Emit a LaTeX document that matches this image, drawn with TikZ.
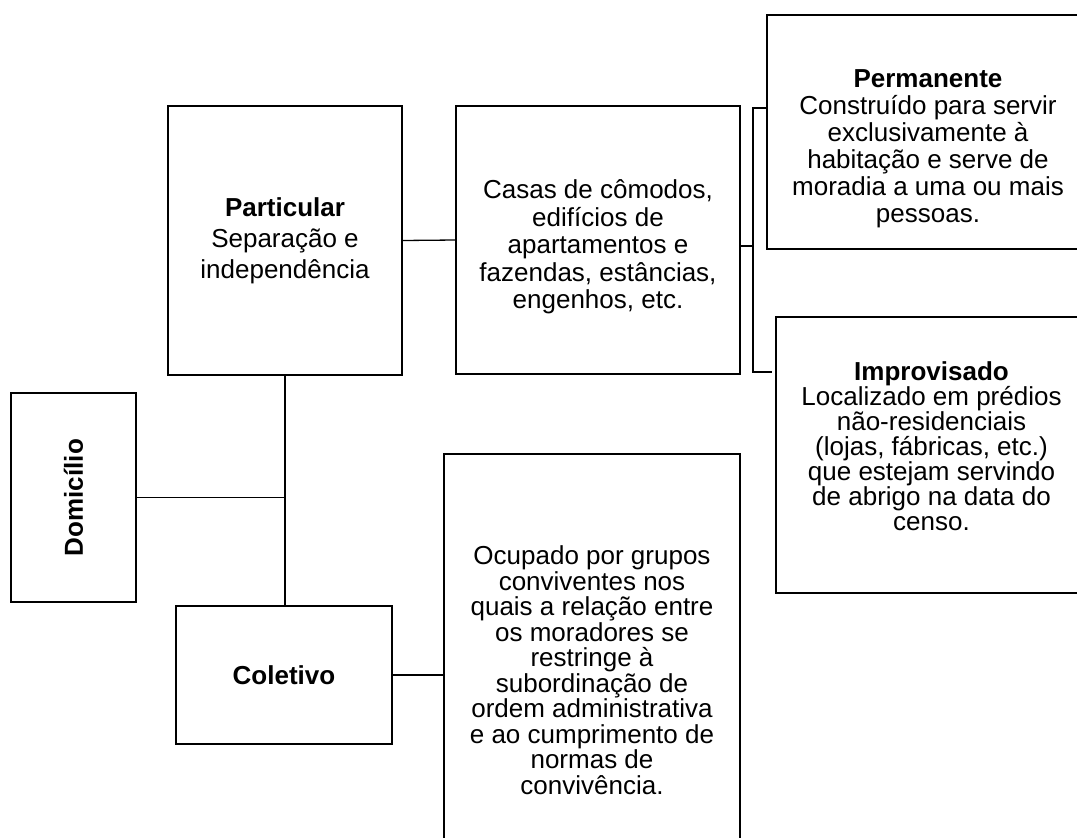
\documentclass[tikz,border=0pt]{standalone}
\usepackage{fontspec}
\setmainfont{Liberation Sans}
\begin{document}
\begin{tikzpicture}[x=1pt,y=-1pt,
	caixa/.style={draw, line width=1.3pt, inner sep=0pt, align=center, font=\fontsize{26}{28}\selectfont},
	texto/.style={inner sep=0pt, align=center},
	liga/.style={line width=1.3pt}]
	\useasboundingbox (0,0) rectangle (1077,838);
	\clip (0,0) rectangle (1077,838);
	%
	\node[caixa, rotate=90, minimum width=209pt, minimum height=125pt, font=\fontsize{26}{28}\selectfont\bfseries] (dom) at (73.5,497.5) {Domicílio};
	\node[caixa, minimum width=234pt, minimum height=269pt, font=\fontsize{26}{31}\selectfont] (part) at (285,240.5) {{\bfseries Particular}\\Separação e\\independência};
	\node[caixa, minimum width=216pt, minimum height=138pt, font=\fontsize{26}{28}\selectfont\bfseries] (colet) at (284,675) {Coletivo};
	%
	\node[caixa, minimum width=284pt, minimum height=268pt] (casas) at (598,240) {};
	\node[texto, font=\fontsize{26}{27.5}\selectfont] (casastxt) at ([yshift=-7pt]casas.center) {Casas de cômodos,\\edifícios de\\apartamentos e\\fazendas, estâncias,\\engenhos, etc.};
	\node[caixa, minimum width=322pt, minimum height=234pt] (perm) at (928,132) {};
	\node[texto, font=\fontsize{26}{27}\selectfont] (permtxt) at ([yshift=-16.5pt]perm.center) {{\bfseries Permanente}\\Construído para servir\\exclusivamente à\\habitação e serve de\\moradia a uma ou mais\\pessoas.};
	\node[caixa, minimum width=311pt, minimum height=276pt] (impr) at (931.5,455) {};
	\node[texto, font=\fontsize{26}{25}\selectfont] (imprtxt) at ([yshift=9pt]impr.center) {{\bfseries Improvisado}\\Localizado em prédios\\não-residenciais\\(lojas, fábricas, etc.)\\que estejam servindo\\de abrigo na data do\\censo.};
	\node[caixa, minimum width=296pt, minimum height=408pt] (ocup) at (592,658) {};
	\node[texto, font=\fontsize{26}{25.5}\selectfont] (ocuptxt) at ([yshift=-12pt]ocup.center) {Ocupado por grupos\\conviventes nos\\quais a relação entre\\os moradores se\\restringe à\\subordinação de\\ordem administrativa\\e ao cumprimento de\\normas de\\convivência.};
	%
	\coordinate (brtop) at (753,108);
	\coordinate (brbot) at (753,372);
	\coordinate (brend) at (772,372);
	%
	\draw[liga] (dom.south) -- (dom.south -| part.south);
	\draw[liga] (part.south) -- (part.south |- colet.north);
	\draw[liga] (part.east) -- (casas.west);
	\draw[liga] ([yshift=-6pt]casas.east) -- ([yshift=-6pt]casas.east -| brtop);
	\draw[liga] (perm.west |- brtop) -- (brtop) -- (brbot) -- (brend);
	\draw[liga] (colet.east) -- (colet.east -| ocup.west);
\end{tikzpicture}
\end{document}
